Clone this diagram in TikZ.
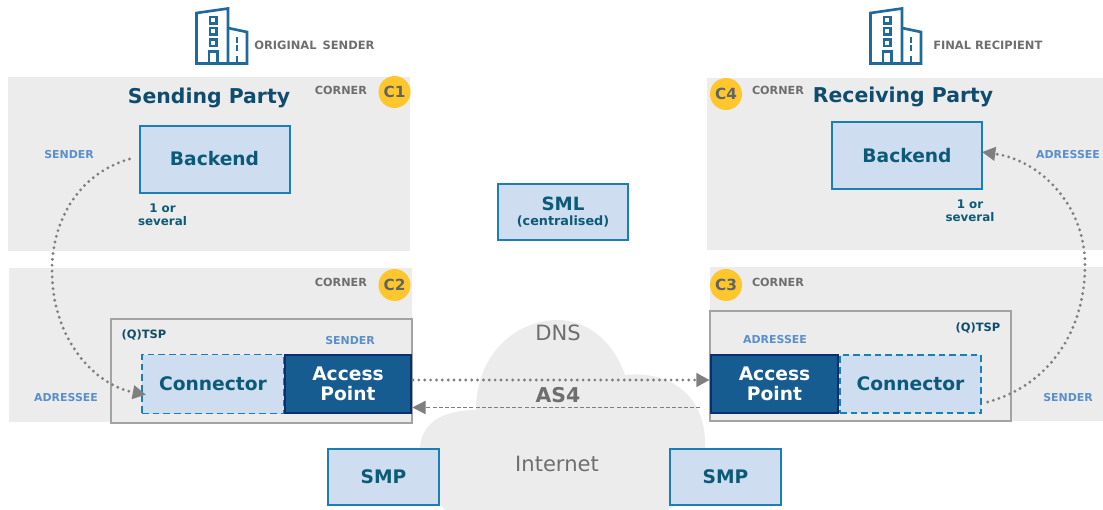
\documentclass[tikz,border=0pt]{standalone}
\usepackage{fontspec}
\setmainfont{DejaVu Sans}
\usetikzlibrary{arrows.meta,calc}
\definecolor{zone}{HTML}{ECECEC}
\definecolor{boxfill}{HTML}{CFDDF0}
\definecolor{boxline}{HTML}{1A7FB5}
\definecolor{boxtext}{HTML}{0B5A78}
\definecolor{titletext}{HTML}{0F4C6E}
\definecolor{apfill}{HTML}{165C90}
\definecolor{apline}{HTML}{0B2F6E}
\definecolor{rolet}{HTML}{5B8FCB}
\definecolor{greyt}{HTML}{6E6E6E}
\definecolor{tsp}{HTML}{A3A3A3}
\definecolor{badge}{HTML}{FFC72C}
\definecolor{badget}{HTML}{5F6468}
\definecolor{flow}{HTML}{7F7F7F}
\definecolor{bld}{HTML}{1F6A9C}
\newcommand{\fs}[1]{\fontsize{#1}{#1}\selectfont}
\newcommand{\building}[1]{%
 \begin{scope}[shift={(#1,0)},draw=bld,line width=2pt,line join=miter]
  \draw (0.5,13)--(32,8.5)--(32,63.5)--(0.5,63.5)--cycle;
  \draw (32,28)--(51,32)--(51,63.5)--(32,63.5);
  \draw[line width=1.6pt] (14,17) rectangle (20.5,23.5);
  \draw[line width=1.6pt] (14,28) rectangle (20.5,34.5);
  \draw[line width=1.6pt] (14,39.5) rectangle (20.5,46);
  \draw (13,63.5)--(13,51.5)--(21.5,51.5)--(21.5,63.5);
  \draw (41,37)--(41,43) (41,45.5)--(41,51) (41,56)--(41,63.5);
 \end{scope}}
\tikzset{
 x=0.75pt,y=-0.75pt,
 wh/.style 2 args={minimum width=#1*0.75pt,minimum height=#2*0.75pt,inner sep=0pt,outer sep=0pt},
 zonebox/.style={fill=zone,draw=none},
 solidbox/.style={draw=boxline,line width=1.5pt,fill=boxfill,text=boxtext,font=\bfseries\fs{14},align=center},
 connbox/.style={draw=boxline,line width=1.3pt,dash pattern=on 5pt off 3pt,fill=boxfill,text=boxtext,font=\bfseries\fs{14},align=center},
 apbox/.style={draw=apline,line width=1.4pt,fill=apfill,text=white,font=\bfseries\fs{14},align=center},
 tspbox/.style={draw=tsp,line width=1.5pt,fill=none},
 corner/.style={text=greyt,font=\bfseries\fs{8.4},inner sep=0pt},
 role/.style={text=rolet,font=\bfseries\fs{8.2},inner sep=0pt},
 badgec/.style={circle,fill=badge,text=badget,font=\bfseries\fs{11.5},minimum size=24pt,inner sep=0pt},
 heading/.style={text=titletext,font=\bfseries\fs{15.3},inner sep=0pt},
 small/.style={text=boxtext,font=\bfseries\fs{8.9},align=center,inner sep=0pt},
 tsplabel/.style={text=titletext,font=\bfseries\fs{8.6},inner sep=0pt},
 owner/.style={text=greyt,font=\bfseries\fs{8.6},inner sep=0pt},
 cloudtext/.style={text=greyt,font=\fs{15.8},inner sep=0pt},
 tip/.style={-{Triangle[length=10pt,width=10pt,fill=flow,color=flow]}},
 dottedflow/.style={draw=flow,line width=2.4pt,line cap=round,dash pattern=on 0pt off 4.4pt,tip},
 dashedflow/.style={draw=flow,line width=1pt,dash pattern=on 3pt off 1.6pt,tip},
}
\begin{document}
\begin{tikzpicture}
\useasboundingbox (0,0) rectangle (1103,510);
% zones
\fill[zone] (8,77) rectangle (410,251);
\fill[zone] (9,268) rectangle (412,422);
\fill[zone] (707,78) rectangle (1103,250);
\fill[zone] (710,267) rectangle (1103,421);
% cloud
\fill[zone] (476,410) .. controls (476,355) and (515,320) .. (558,320)
 .. controls (590,320) and (615,345) .. (625,375)
 .. controls (675,370) and (705,400) .. (705,443)
 .. controls (705,475) and (690,498) .. (667,510)
 -- (445,510) .. controls (430,495) and (420,470) .. (420,450)
 .. controls (420,425) and (440,410) .. (476,410) -- cycle;
% buildings
\building{196}
\building{870}
\node[owner,anchor=west] (o1) at (254,45.5) {ORIGINAL\hspace{0.18em} SENDER};
\node[owner,anchor=west] (o2) at (933,45.5) {FINAL RECIPIENT};
% headings
\node[heading] (h1) at (209,98) {Sending Party};
\node[heading] (h2) at (903,97) {Receiving Party};
\node[corner] (k1) at (341,90) {CORNER};
\node[corner] (k2) at (341,282) {CORNER};
\node[corner] (k3) at (778,282) {CORNER};
\node[corner] (k4) at (778,90) {CORNER};
\node[badgec] (c1) at (394.5,92) {C1};
\node[badgec] (c2) at (394.5,285) {C2};
\node[badgec] (c3) at (726,285) {C3};
\node[badgec] (c4) at (726,94) {C4};
% backends
\node[solidbox,wh={150}{67}] (b1) at (214.5,159) {Backend};
\node[solidbox,wh={150}{67}] (b2) at (907,155.5) {Backend};
\node[small] (s1) at (162.5,215) {1 or\\[1pt]several};
\node[small] (s2) at (970,211) {1 or\\[1pt]several};
% SML
\node[solidbox,wh={130}{56},font=\bfseries\fs{13.7}] (sml) at (563,212) {};
\node[text=boxtext,font=\bfseries\fs{13.7},inner sep=0pt] (smlt) at (563,204) {SML};
\node[text=boxtext,font=\bfseries\fs{9.6},inner sep=0pt] (smlc) at (563,221) {(centralised)};
% TSP frames
\node[tspbox,wh={301}{104}] (t1) at (261.5,371) {};
\node[tspbox,wh={301}{110}] (t2) at (860.5,366) {};
\node[tsplabel] (q1) at (144,335) {(Q)TSP};
\node[tsplabel] (q2) at (978,328) {(Q)TSP};
% connector and AP
\node[connbox,wh={142}{59}] (cn1) at (213,384) {Connector};
\node[apbox,wh={126}{58}] (ap1) at (348,384) {Access\\[1pt]Point};
\node[apbox,wh={127}{58}] (ap2) at (774.5,384) {Access\\[1pt]Point};
\node[connbox,wh={141}{58}] (cn2) at (910.5,384) {Connector};
% roles
\node[role] (r1) at (69,155) {SENDER};
\node[role] (r2) at (66,398) {ADRESSEE};
\node[role] (r3) at (350,341) {SENDER};
\node[role] (r4) at (775,340) {ADRESSEE};
\node[role] (r5) at (1068,155) {ADRESSEE};
\node[role] (r6) at (1068,398) {SENDER};
% SMP
\node[solidbox,wh={111}{56}] (m1) at (383.5,477) {SMP};
\node[solidbox,wh={111}{56}] (m2) at (725.5,477) {SMP};
% cloud labels
\node[cloudtext] (dns) at (558,333) {DNS};
\node[text=greyt,font=\bfseries\fs{15.3},inner sep=0pt] (as4) at (558,395) {AS4};
\node[cloudtext] (inet) at (557,464) {Internet};
% connectors
\draw[dottedflow] ([xshift=-7.5pt]b1.west) .. controls (75,175) and (52,225) .. (52,270)
  .. controls (52,340) and (95,385) .. ([xshift=3pt,yshift=-8pt]cn1.west);
\draw[dottedflow] ([xshift=5pt,yshift=-13.5pt]cn2.east) .. controls (1050,385) and (1085,330) .. (1085,265)
  .. controls (1085,205) and (1040,160) .. ([yshift=2.6pt]b2.east);
\draw[dottedflow] ([xshift=1.5pt,yshift=3pt]ap1.east) -- ([xshift=-1pt,yshift=3pt]ap2.west);
\draw[dashedflow] ([xshift=-8pt,yshift=-17.6pt]ap2.west) -- ([xshift=1pt,yshift=-17.6pt]ap1.east);
\end{tikzpicture}
\end{document}
